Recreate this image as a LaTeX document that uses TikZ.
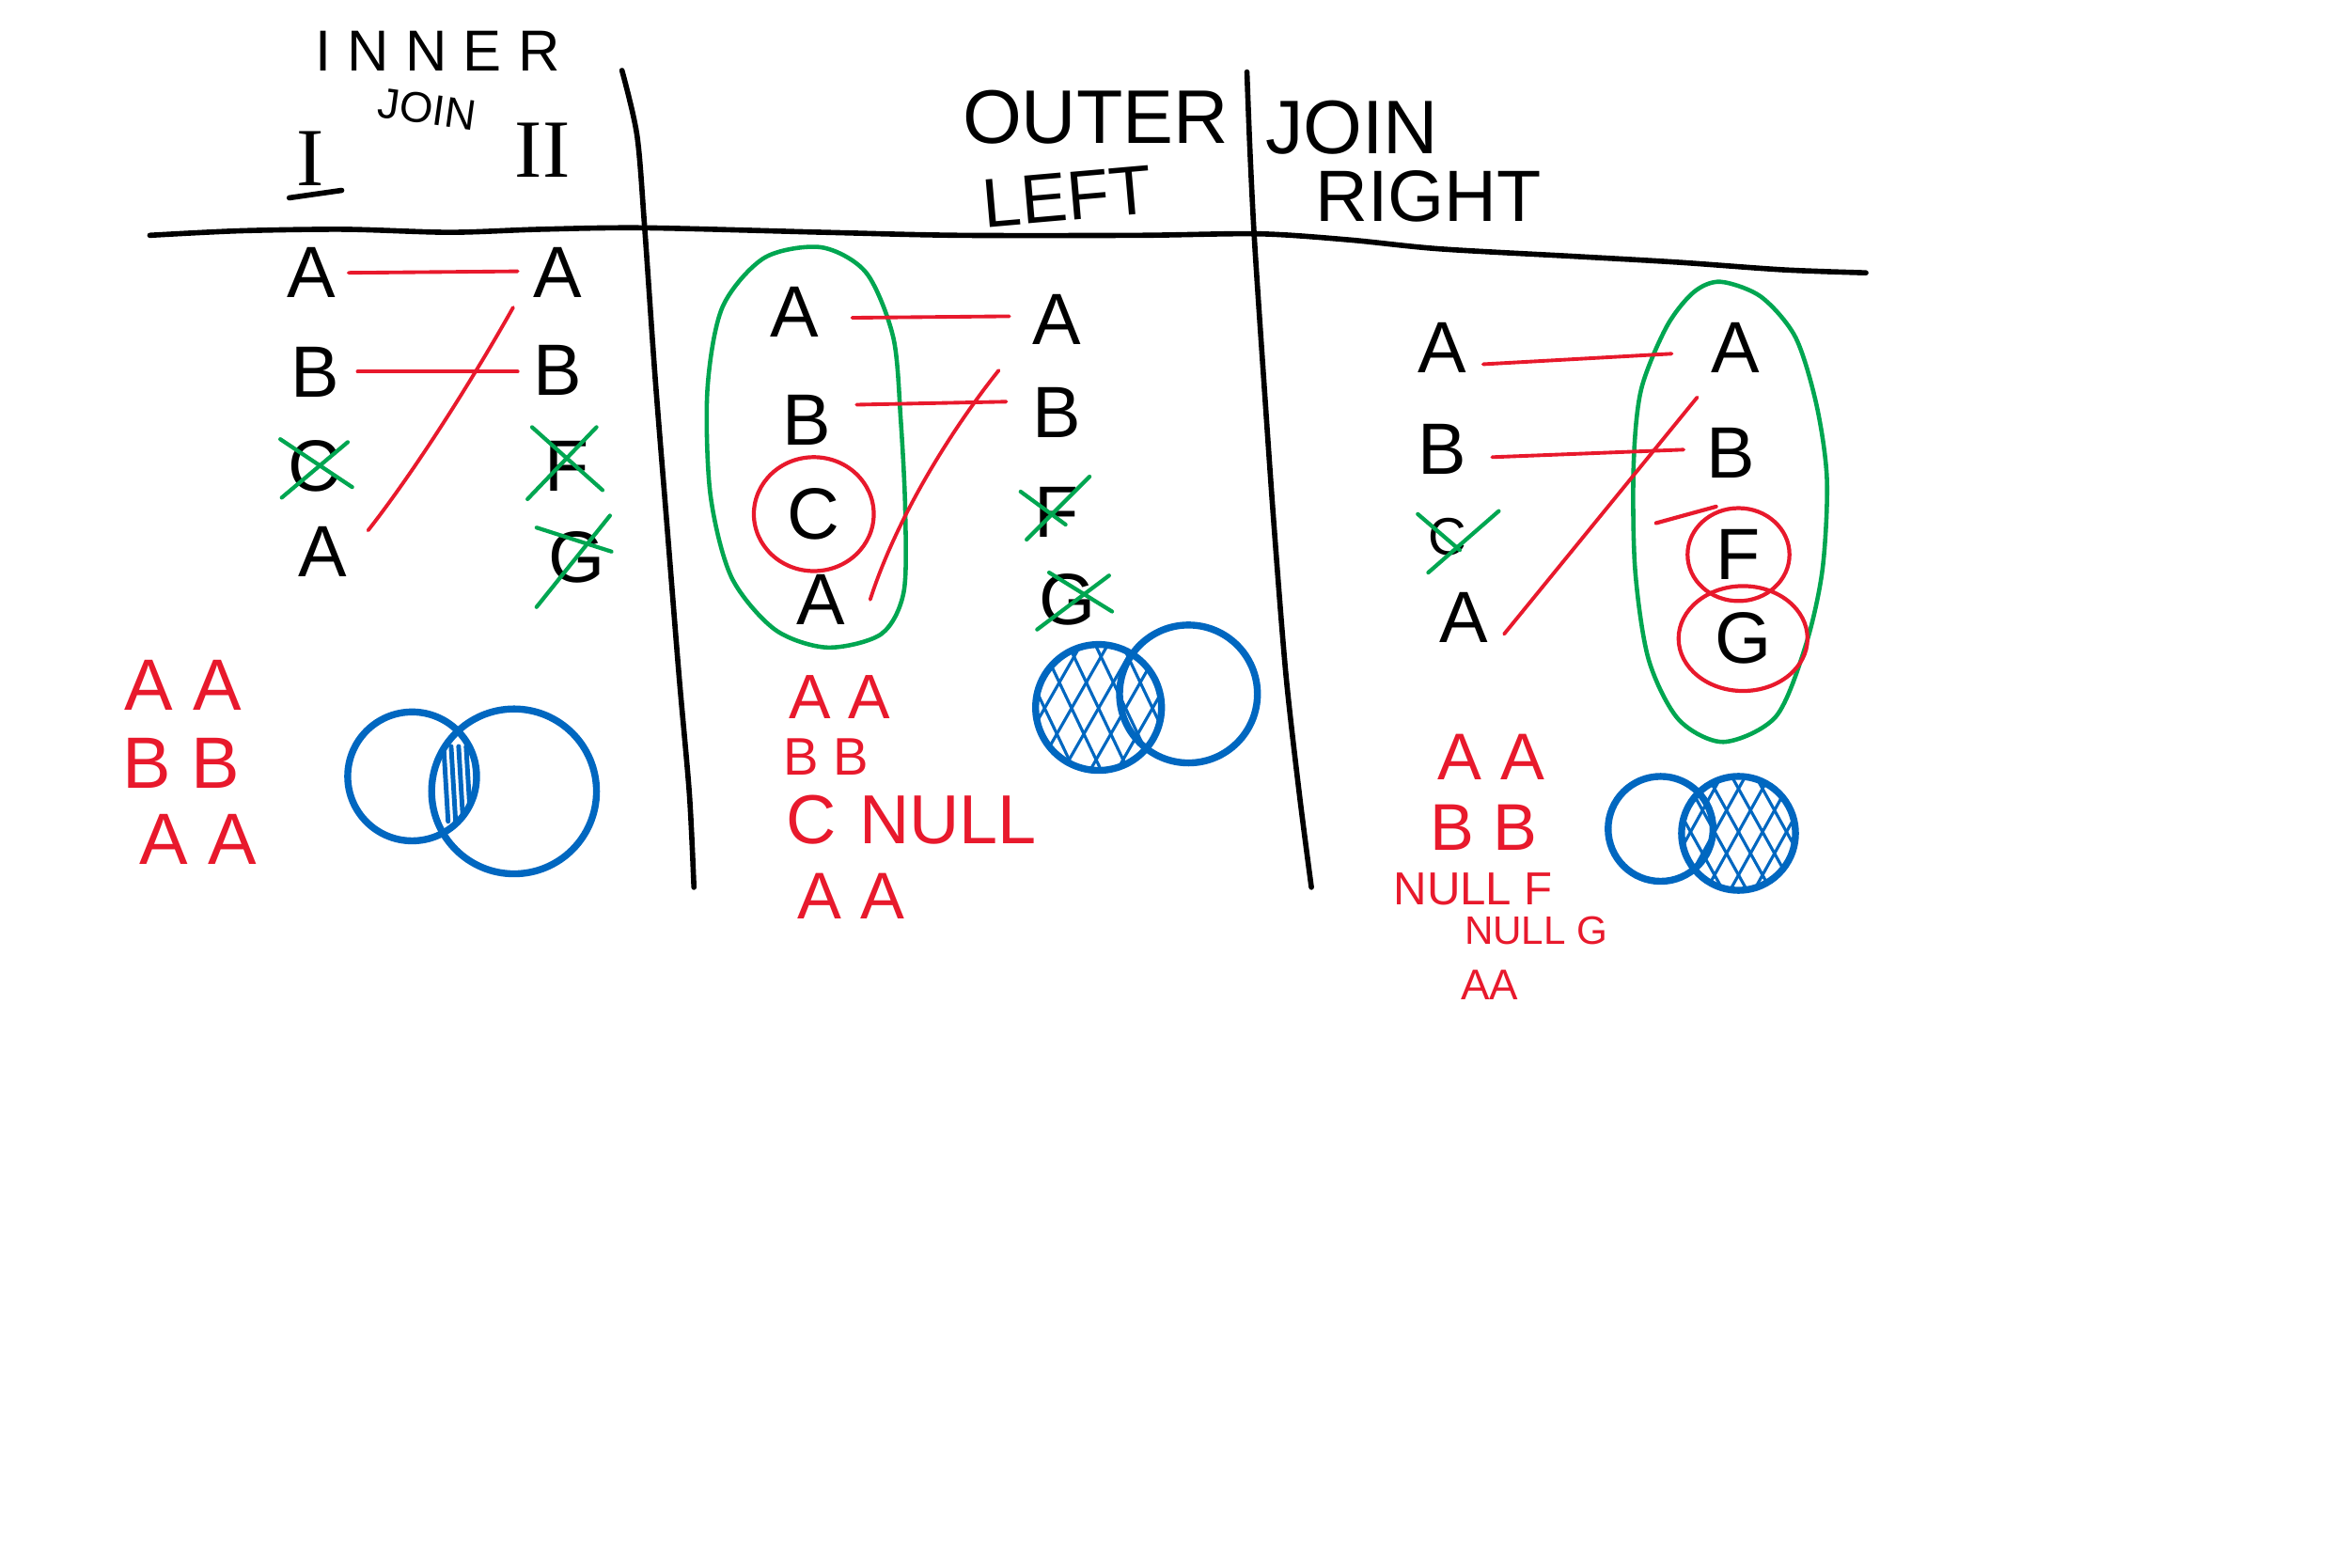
\documentclass[tikz,border=0pt]{standalone}
\usepackage{fontspec}
\setmainfont{Liberation Sans}
\newfontfamily\romanI{Liberation Serif}
\usetikzlibrary{calc}
\definecolor{hred}{RGB}{232,25,44}
\definecolor{hgreen}{RGB}{0,166,81}
\definecolor{hblue}{RGB}{0,103,192}
\begin{document}
\begin{tikzpicture}[x=0.015944cm,y=-0.015944cm,
 ink/.style={line width=1.6pt,line cap=round,line join=round},
 redline/.style={hred,line width=1.1pt,line cap=round},
 greenx/.style={hgreen,line width=1.2pt,line cap=round},
 greenloop/.style={hgreen,line width=1.3pt},
 redloop/.style={hred,line width=1.2pt,line cap=round},
 venn/.style={hblue,line width=2.1pt},
 hatch/.style={hblue,line width=0.9pt,line cap=round},
 letter/.style={inner sep=0pt,font=\fontsize{22}{24}\selectfont},
 res/.style={inner sep=0pt,text=hred,font=\fontsize{#1}{#1}\selectfont},
 ttl/.style={inner sep=0pt,font=\fontsize{#1}{#1}\selectfont},
]
\useasboundingbox[fill=white] (0,0) rectangle (1568,1046);

% ---------- frame lines ----------
\draw[ink] plot[smooth] coordinates {(100,157) (160,154) (230,153) (300,155) (360,153) (430,152) (550,155) (640,157) (760,157) (840,156) (900,160) (960,166) (1050,171) (1120,175) (1190,180) (1245,182)};
\draw[ink] plot[smooth] coordinates {(415,47) (425,90) (430,150) (437,250) (445,350) (453,450) (460,530) (463,592)};
\draw[ink] plot[smooth] coordinates {(832,48) (834,100) (837,160) (843,250) (850,350) (858,450) (867,530) (875,592)};

% ---------- panel 1 : inner join ----------
\node[ttl=17.5] (ti1) at (292,34) {\addfontfeatures{LetterSpace=28}INNER};
\node[ttl=13,rotate=-8] (tj1) at (285,73) {JOIN};
\node[inner sep=0pt,font=\romanI\fontsize{25}{25}\selectfont] (t1I) at (207,106) {I};
\draw[ink] (193,132) -- (228,127);
\node[inner sep=0pt,font=\romanI\fontsize{25}{25}\selectfont] (t1II) at (362,100) {II};

\node[letter] (l1a) at (208,182) {A};
\node[letter] (l1b) at (210,248) {B};
\node[letter] (l1c) at (210,311) {C};
\node[letter] (l1d) at (215,368) {A};
\node[letter] (r1a) at (372,182) {A};
\node[letter] (r1b) at (372,247) {B};
\node[letter] (r1f) at (378,311) {F};
\node[letter] (r1g) at (385,372) {G};

\draw[redline] ($(l1a.east)+(8,0)$) -- ($(r1a.west)+(-10,-1)$);
\draw[redline] ($(l1b.east)+(12,0)$) -- ($(r1b.west)+(-10,1)$);
\draw[redline] ($(l1d.north east)+(14,3)$) .. controls (280,310) and (320,245) .. ($(r1a.south west)+(-13,6)$);

\draw[greenx] ($(l1c)+(-23,-18)$) -- ($(l1c)+(25,14)$);
\draw[greenx] ($(l1c)+(22,-16)$) -- ($(l1c)+(-22,21)$);
\draw[greenx] ($(r1f)+(-23,-26)$) -- ($(r1f)+(24,16)$);
\draw[greenx] ($(r1f)+(20,-26)$) -- ($(r1f)+(-26,22)$);
\draw[greenx] ($(r1g)+(-27,-20)$) -- ($(r1g)+(23,-4)$);
\draw[greenx] ($(r1g)+(22,-28)$) -- ($(r1g)+(-27,33)$);

\node[res=22] (p1r1) at (122,457) {A A};
\node[res=22] (p1r2) at (121,509) {B B};
\node[res=22] (p1r3) at (132,560) {A A};

\draw[venn] (275,518) circle[radius=43];
\draw[venn] (343,528) circle[radius=55];
\begin{scope}
\clip (275,518) circle[radius=43];
\clip (343,528) circle[radius=55];
\foreach \d in {296,301,...,316} {\draw[hatch,line width=1.4pt] (\d,498) -- (\d+3,548);}
\end{scope}

% ---------- panel 2 : left outer join ----------
\node[ttl=23] (to2) at (731,78) {OUTER};
\node[ttl=21,rotate=5] (tl2) at (712,131) {LEFT};

\draw[greenloop] plot[smooth cycle] coordinates {(548,165) (578,182) (596,225) (601,280) (604,340) (603,395) (588,423) (552,432) (517,420) (488,385) (474,330) (472,260) (482,205) (510,172)};

\node[letter] (l2a) at (530,208) {A};
\node[letter] (l2b) at (538,280) {B};
\node[letter] (l2c) at (543,343) {C};
\node[letter] (l2d) at (548,400) {A};
\node[letter] (r2a) at (705,213) {A};
\node[letter] (r2b) at (705,275) {B};
\node[letter] (r2f) at (705,342) {F};
\node[letter] (r2g) at (712,400) {G};

\draw[redloop] (l2c) ellipse[x radius=40, y radius=38];
\draw[redline] ($(l2a.east)+(22,4)$) -- ($(r2a.west)+(-15,-2)$);
\draw[redline] ($(l2b.east)+(17,-10)$) -- ($(r2b.west)+(-17,-7)$);
\draw[redline] ($(l2d.east)+(16,0)$) .. controls (600,340) and (640,280) .. ($(r2a.south west)+(-22,17)$);

\draw[greenx] ($(r2f)+(-24,-14)$) -- ($(r2f)+(6,8)$);
\draw[greenx] ($(r2f)+(22,-24)$) -- ($(r2f)+(-20,18)$);
\draw[greenx] ($(r2g)+(-12,-18)$) -- ($(r2g)+(30,8)$);
\draw[greenx] ($(r2g)+(28,-16)$) -- ($(r2g)+(-20,20)$);

\node[res=19] (p2r1) at (560,465) {A A};
\node[res=16] (p2r2) at (551,505) {B B};
\node[res=21,anchor=west] (p2r3) at (524,547) {C\,\,NULL};
\node[res=20] (p2r4) at (568,598) {A A};

\begin{scope}
\clip (733,472) circle[radius=42];
\foreach \d in {-90,-72,...,90} {
 \draw[hatch] ({733+\d-25},420) -- ({733+\d+25},525);
 \draw[hatch] ({733+\d+30},420) -- ({733+\d-30},525);
}
\end{scope}
\draw[venn] (733,472) circle[radius=42];
\draw[venn] (793,463) circle[radius=46];

% ---------- panel 3 : right outer join ----------
\node[ttl=23] (tj3) at (902,85) {JOIN};
\node[ttl=22] (tr3) at (953,131) {RIGHT};

\draw[greenloop] plot[smooth cycle] coordinates {(1148,188) (1175,198) (1198,225) (1212,270) (1219,320) (1216,380) (1205,430) (1185,478) (1150,495) (1120,480) (1100,440) (1091,380) (1090,310) (1095,260) (1112,218) (1130,195)};

\node[letter] (l3a) at (962,232) {A};
\node[letter] (l3b) at (962,300) {B};
\node[letter,font=\fontsize{16}{16}\selectfont] (l3c) at (966,358) {C};
\node[letter] (l3d) at (977,412) {A};
\node[letter] (r3a) at (1158,232) {A};
\node[letter] (r3b) at (1155,302) {B};
\node[letter] (r3f) at (1160,370) {F};
\node[letter] (r3g) at (1163,426) {G};

\draw[redloop] (r3f) ellipse[x radius=34, y radius=31];
\draw[redloop] (r3g) ellipse[x radius=43, y radius=35];
\draw[redloop] (1105,349) -- (1145,338);
\draw[redline] ($(l3a.east)+(11,11)$) -- ($(r3a.west)+(-26,4)$);
\draw[redline] ($(l3b.east)+(17,5)$) -- ($(r3b.west)+(-15,-2)$);
\draw[redline] ($(l3d.east)+(10,11)$) -- ($(r3a.south west)+(-9,16)$);

\draw[greenx] ($(l3c)+(-20,-15)$) -- ($(l3c)+(8,9)$);
\draw[greenx] ($(l3c)+(34,-17)$) -- ($(l3c)+(-13,24)$);

\node[res=20] (p3r1) at (995,505) {A A};
\node[res=20] (p3r2) at (990,552) {B B};
\node[res=14] (p3r3) at (983,593) {NULL F};
\node[res=12] (p3r4) at (1025,621) {NULL G};
\node[res=13] (p3r5) at (994,657) {AA};

\begin{scope}
\clip (1160,556) circle[radius=38];
\foreach \d in {-80,-64,...,80} {
 \draw[hatch] ({1160+\d-25},510) -- ({1160+\d+25},600);
 \draw[hatch] ({1160+\d+25},510) -- ({1160+\d-25},600);
}
\end{scope}
\draw[venn] (1108,553) circle[radius=35];
\draw[venn] (1160,556) circle[radius=38];
\end{tikzpicture}
\end{document}
